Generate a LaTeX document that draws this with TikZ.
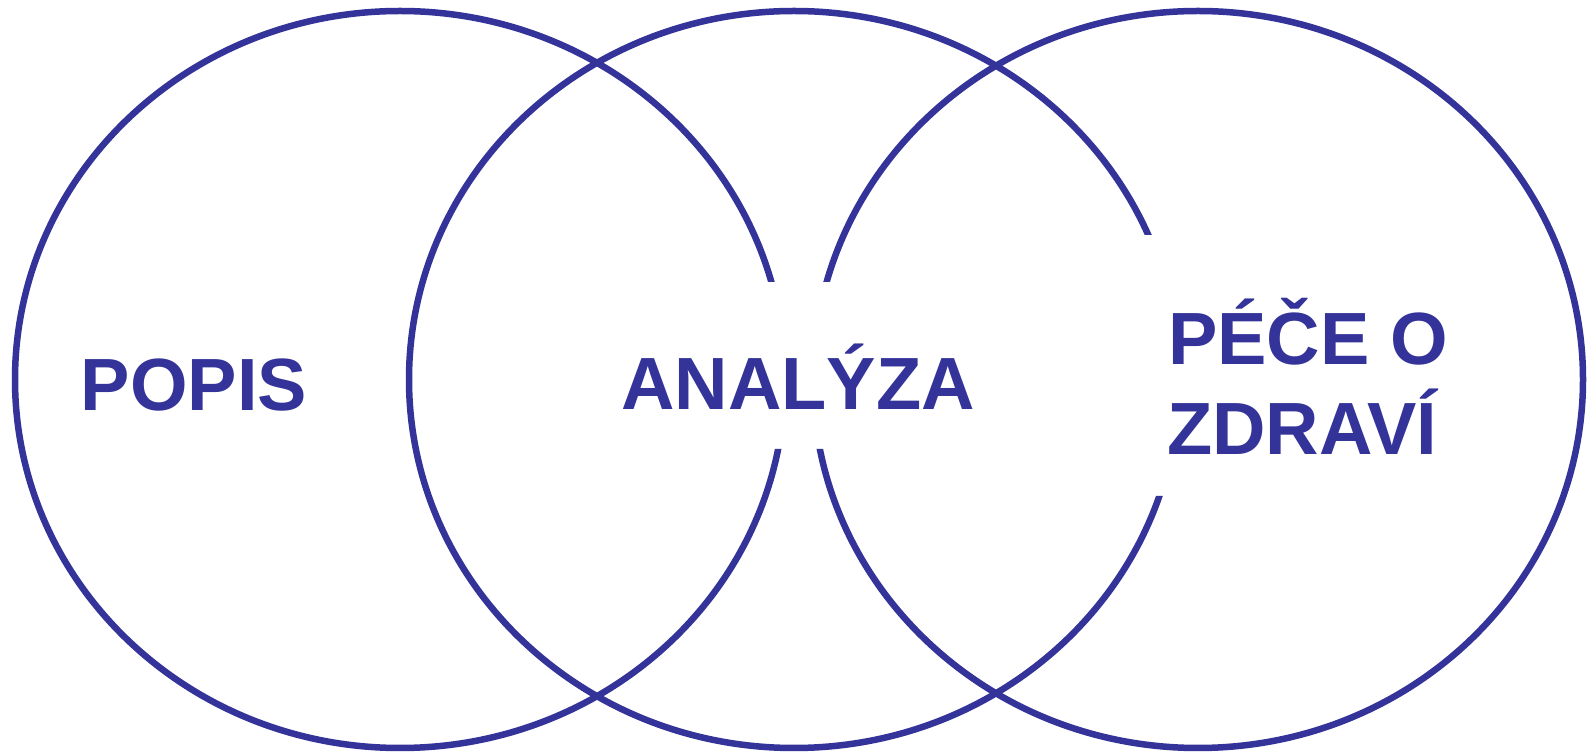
\documentclass[tikz,border=0pt]{standalone}
\usepackage{fontspec}
\setmainfont{Liberation Sans}
\definecolor{venn}{RGB}{51,51,153}
\begin{document}
\begin{tikzpicture}[x=1pt,y=1pt,
  ring/.style={draw=venn,line width=6.5pt},
  label/.style={text=venn,font=\bfseries\fontsize{74}{90}\selectfont,inner sep=0pt}]
\useasboundingbox (0,0) rectangle (1591,755);
\coordinate (cl) at (400,375.5);
\coordinate (cm) at (794,375.5);
\coordinate (cr) at (1198,375.5);
% left ellipse, gap on right
\begin{scope}[even odd rule]
  \clip (-10,-10) rectangle (1601,765) (700,306) rectangle (800,473);
  \draw[ring] (cl) ellipse[x radius=385,y radius=368.5];
\end{scope}
% middle ellipse, gap on right
\begin{scope}[even odd rule]
  \clip (-10,-10) rectangle (1601,765) (1100,259) rectangle (1200,520);
  \draw[ring] (cm) ellipse[x radius=385,y radius=368.5];
\end{scope}
% right ellipse, gap on left
\begin{scope}[even odd rule]
  \clip (-10,-10) rectangle (1601,765) (790,306) rectangle (900,473);
  \draw[ring] (cr) ellipse[x radius=385,y radius=368.5];
\end{scope}
\node[label,anchor=base] (popis) at (194,344) {POPIS};
\node[label,anchor=base] (analyza) at (798,345) {ANALÝZA};
\node[label,anchor=base west] (pece) at (1168,390) {PÉČE O};
\node[label,anchor=base west] (zdravi) at (1167,300) {ZDRAVÍ};
\end{tikzpicture}
\end{document}
